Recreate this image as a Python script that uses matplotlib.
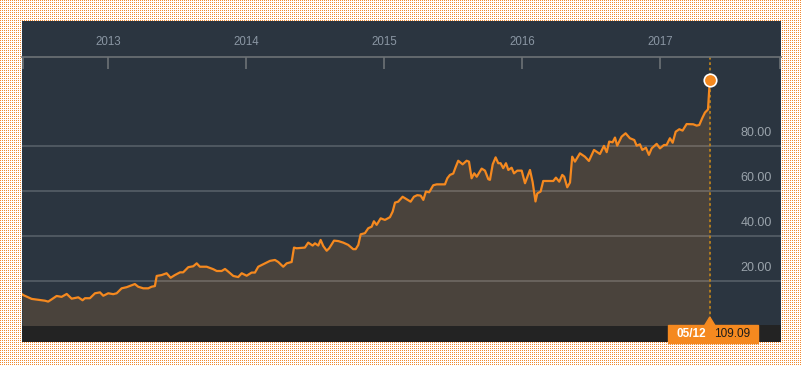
import numpy as np
import matplotlib
matplotlib.use("Agg")
import matplotlib.pyplot as plt
from matplotlib.patches import Rectangle, Polygon

# price history (x in decimal years)
years = [2012.375, 2012.384, 2012.420, 2012.445, 2012.505, 2012.541, 2012.565, 2012.590, 2012.626, 2012.662,
         2012.699, 2012.735, 2012.783, 2012.814, 2012.831, 2012.867, 2012.904, 2012.940, 2012.964, 2013.000,
         2013.036, 2013.061, 2013.097, 2013.133, 2013.193, 2013.217, 2013.254, 2013.290, 2013.314, 2013.338,
         2013.351, 2013.387, 2013.423, 2013.452, 2013.483, 2013.520, 2013.543, 2013.580, 2013.616, 2013.641,
         2013.664, 2013.713, 2013.761, 2013.786, 2013.822, 2013.846, 2013.870, 2013.906, 2013.942, 2013.967,
         2014.003, 2014.039, 2014.063, 2014.087, 2014.123, 2014.172, 2014.208, 2014.232, 2014.268, 2014.293,
         2014.329, 2014.346, 2014.365, 2014.425, 2014.449, 2014.481, 2014.498, 2014.522, 2014.539, 2014.558,
         2014.583, 2014.601, 2014.636, 2014.667, 2014.703, 2014.739, 2014.775, 2014.793, 2014.812, 2014.829,
         2014.860, 2014.884, 2014.909, 2014.925, 2014.945, 2014.974, 2015.005, 2015.041, 2015.061, 2015.078,
         2015.101, 2015.133, 2015.162, 2015.191, 2015.215, 2015.239, 2015.264, 2015.283, 2015.302, 2015.326,
         2015.355, 2015.380, 2015.440, 2015.457, 2015.476, 2015.500, 2015.517, 2015.536, 2015.568, 2015.597,
         2015.614, 2015.633, 2015.652, 2015.670, 2015.706, 2015.730, 2015.754, 2015.766, 2015.786, 2015.807,
         2015.826, 2015.843, 2015.862, 2015.882, 2015.899, 2015.923, 2015.940, 2015.964, 2015.996, 2016.020,
         2016.056, 2016.075, 2016.096, 2016.109, 2016.133, 2016.152, 2016.225, 2016.244, 2016.268, 2016.290,
         2016.304, 2016.326, 2016.346, 2016.362, 2016.382, 2016.418, 2016.454, 2016.483, 2016.520, 2016.563,
         2016.592, 2016.612, 2016.630, 2016.655, 2016.672, 2016.688, 2016.720, 2016.749, 2016.780, 2016.812,
         2016.829, 2016.853, 2016.870, 2016.896, 2016.918, 2016.938, 2016.974, 2016.998, 2017.027, 2017.046,
         2017.070, 2017.090, 2017.112, 2017.138, 2017.162, 2017.191, 2017.239, 2017.264, 2017.283, 2017.304,
         2017.324, 2017.346, 2017.359]
prices = [14.0, 13.6, 12.6, 11.9, 11.4, 11.1, 10.7, 11.7, 13.2, 12.8,
          14.1, 12.0, 12.6, 11.3, 12.2, 12.2, 14.4, 14.8, 13.3, 14.4,
          14.0, 14.4, 16.6, 17.1, 18.5, 17.3, 16.6, 16.6, 17.3, 17.6,
          22.1, 22.5, 23.3, 21.3, 22.5, 23.7, 23.7, 26.0, 26.4, 27.7,
          26.2, 26.2, 25.1, 24.3, 24.3, 25.2, 24.0, 22.1, 21.6, 23.3,
          22.2, 23.6, 23.6, 26.2, 27.3, 28.8, 29.2, 28.3, 26.2, 27.7,
          28.3, 34.7, 34.4, 34.7, 36.9, 35.6, 36.6, 35.6, 38.1, 35.4,
          33.3, 34.4, 37.8, 37.6, 36.9, 35.9, 34.0, 34.0, 35.9, 40.6,
          41.1, 43.3, 44.0, 46.4, 44.8, 47.7, 47.0, 48.2, 50.7, 54.7,
          55.1, 57.3, 56.2, 55.1, 57.3, 58.0, 57.8, 55.9, 59.6, 59.3,
          62.4, 62.8, 62.8, 65.5, 67.0, 67.6, 70.4, 73.3, 71.7, 73.3,
          72.9, 65.5, 67.7, 66.2, 69.8, 68.9, 65.1, 64.8, 71.7, 74.8,
          72.2, 72.2, 70.0, 72.2, 69.2, 70.2, 67.7, 68.9, 68.9, 63.3,
          69.2, 63.9, 55.2, 58.8, 59.6, 64.3, 64.3, 65.8, 64.0, 67.0,
          66.2, 61.5, 63.6, 75.1, 72.9, 76.6, 75.1, 73.2, 78.1, 76.3,
          79.9, 77.1, 81.8, 81.5, 83.6, 80.0, 84.0, 85.5, 83.3, 82.5,
          80.0, 80.6, 78.1, 79.1, 75.9, 78.8, 80.8, 78.8, 80.3, 80.3,
          83.3, 81.3, 86.2, 87.3, 86.7, 89.6, 89.5, 88.9, 89.2, 92.2,
          94.7, 96.1, 109.09]

year_ticks = [2013, 2014, 2015, 2016, 2017]
grid_levels = [20, 40, 60, 80]
last_label = "05/12"
last_value = 109.09

W, H = 803, 365
BG = "#2b3540"
FILL = "#4a433c"
ORANGE = "#f5891f"

fig = plt.figure(figsize=(W / 100, H / 100), dpi=100)

# dotted orange page background
bg = fig.add_axes([0, 0, 1, 1])
img = np.ones((H, W, 3))
dots = np.zeros((H, W), bool)
dots[::2, ::2] = True
img[dots] = np.array([240, 138, 48]) / 255
bg.imshow(img, interpolation="nearest", aspect="auto", extent=(0, W, H, 0))
bg.set_xlim(0, W)
bg.set_ylim(H, 0)
bg.axis("off")


def fx(px):
    return px / W


def fy(py):
    return (H - py) / H


# header strip
head = fig.add_axes([fx(22), fy(57), fx(759), 36 / H])
head.set_facecolor(BG)
head.set_xticks([])
head.set_yticks([])
for s in head.spines.values():
    s.set_visible(False)

# bottom bar
bot = fig.add_axes([fx(22), fy(342), fx(759), 17 / H])
bot.set_facecolor("#232323")
bot.set_xticks([])
bot.set_yticks([])
for s in bot.spines.values():
    s.set_visible(False)

# main chart
ax = fig.add_axes([fx(22), fy(325), fx(759), 268 / H])
ax.set_facecolor(BG)
xmin, xmax = 2012.375, 2017.875
ax.set_xlim(xmin, xmax)
ax.set_ylim(0.3, 119.4)

ax.fill_between(years, prices, 0, color=FILL, lw=0, zorder=1)
for g in grid_levels:
    ax.axhline(g, color="white", alpha=0.22, lw=1.1, zorder=2)
    ax.annotate("%.2f" % g, xy=(1, g), xycoords=("axes fraction", "data"),
                xytext=(-6.5, 9.0), textcoords="offset points",
                ha="right", va="center", color="#9aa3ab",
                fontsize=9, family="Liberation Sans", zorder=5)
ax.plot(years, prices, color=ORANGE, lw=1.6, zorder=3, solid_joinstyle="round")
ax.axvline(years[-1], color="#b8801e", lw=1.3, ls=(0, (1.5, 1.5)), zorder=2)
ax.plot([years[-1]], [prices[-1]], "o", ms=9, mfc=ORANGE, mec="white", mew=1.2,
        zorder=6, clip_on=False)

for s in ["left", "right", "bottom"]:
    ax.spines[s].set_visible(False)
ax.spines["top"].set_color("#6d7276")
ax.spines["top"].set_linewidth(1.2)
ax.set_yticks([])
ax.set_xticks(year_ticks)
ax.set_xticklabels([str(y) for y in year_ticks])
ax.set_xticks([xmin + 0.004, xmax - 0.004], minor=True)
ax.tick_params(axis="x", which="both", top=True, bottom=False, labeltop=True,
               labelbottom=False, direction="in", length=8.6, width=1.2,
               color="#6d7276", pad=6.5, labelcolor="#8a96a3", labelsize=8.3)
for t in ax.get_xticklabels():
    t.set_family("Liberation Sans")

# last value flag at the bottom
px = ax.transData.transform((years[-1], 0))[0]
fig.patches.append(Rectangle((fx(px - 42), fy(342.5)), 90 / W, 17.5 / H,
                             transform=fig.transFigure, color=ORANGE, zorder=10))
fig.patches.append(Polygon([(fx(px - 5), fy(325.2)), (fx(px + 5), fy(325.2)), (fx(px), fy(317))],
                           closed=True, transform=fig.transFigure, color=ORANGE, zorder=10))
fig.text(fx(px - 33), fy(333.8), last_label, color="white", fontweight="bold",
         fontsize=8.5, family="Liberation Sans", va="center", ha="left", zorder=11)
fig.text(fx(px + 4), fy(333.8), "%.2f" % last_value, color="#1a1a1a",
         fontsize=8.5, family="Liberation Sans", va="center", ha="left", zorder=11)

fig.savefig("out.png", dpi=100)
